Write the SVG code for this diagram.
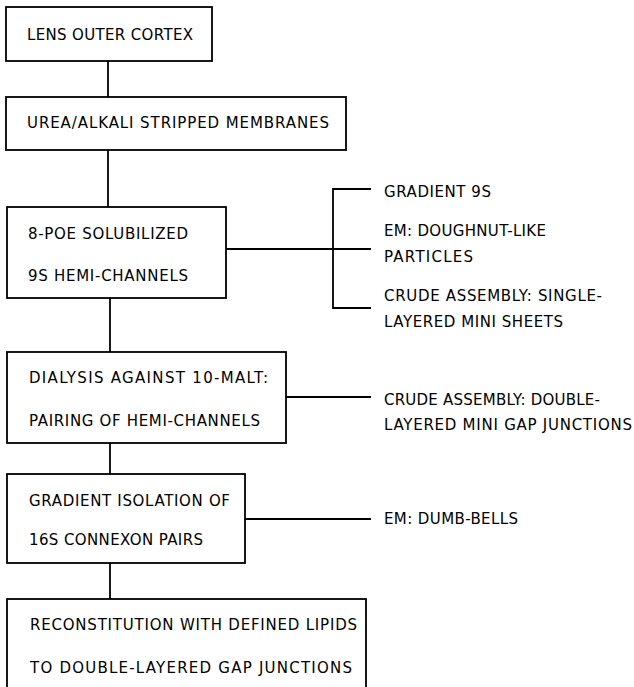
<svg xmlns="http://www.w3.org/2000/svg" width="634" height="687" viewBox="0 0 634 687">
<style>
.box{fill:#fff;stroke:#000;stroke-width:1.8}
.ln{fill:none;stroke:#000;stroke-width:1.8}
text{font-family:"DejaVu Sans","Liberation Sans",Arial,sans-serif;font-size:15px;fill:#000}
</style>
<rect width="634" height="687" fill="#fff"/>
<g id="connectors">
<line class="ln" x1="108" y1="61" x2="108" y2="97"/>
<line class="ln" x1="108" y1="150" x2="108" y2="207"/>
<line class="ln" x1="110" y1="298" x2="110" y2="352"/>
<line class="ln" x1="110" y1="443" x2="110" y2="474"/>
<line class="ln" x1="110" y1="563" x2="110" y2="599"/>
<line class="ln" x1="226" y1="249" x2="371" y2="249"/>
<polyline class="ln" points="371,189 333,189 333,308 371,308"/>
<line class="ln" x1="286" y1="397" x2="371" y2="397"/>
<line class="ln" x1="245" y1="519" x2="371" y2="519"/>
</g>
<g id="n1"><rect class="box" x="6" y="7" width="206" height="54"/><text x="27" y="40" textLength="166">LENS OUTER CORTEX</text></g>
<g id="n2"><rect class="box" x="6" y="97" width="340" height="53"/><text x="27" y="128" textLength="302">UREA/ALKALI  STRIPPED  MEMBRANES</text></g>
<g id="n3"><rect class="box" x="7" y="207" width="219" height="91"/><text x="28" y="239" textLength="160">8-POE  SOLUBILIZED</text><text x="28" y="281" textLength="160">9S  HEMI-CHANNELS</text></g>
<g id="n4"><rect class="box" x="7" y="352" width="279" height="91"/><text x="29" y="383" textLength="239">DIALYSIS  AGAINST  10-MALT:</text><text x="29" y="426" textLength="231">PAIRING  OF  HEMI-CHANNELS</text></g>
<g id="n5"><rect class="box" x="7" y="474" width="238" height="89"/><text x="29" y="506" textLength="201">GRADIENT  ISOLATION  OF</text><text x="29" y="545" textLength="174">16S CONNEXON PAIRS</text></g>
<g id="n6"><rect class="box" x="7" y="599" width="359" height="100"/><text x="30" y="630" textLength="327">RECONSTITUTION  WITH  DEFINED  LIPIDS</text><text x="30" y="673" textLength="322">TO DOUBLE-LAYERED GAP JUNCTIONS</text></g>
<g id="a1"><text x="384" y="197" textLength="107">GRADIENT  9S</text></g>
<g id="a2"><text x="384" y="236" textLength="162">EM: DOUGHNUT-LIKE</text><text x="384" y="262" textLength="89">PARTICLES</text></g>
<g id="a3"><text x="384" y="301" textLength="218">CRUDE  ASSEMBLY:  SINGLE-</text><text x="384" y="327" textLength="179">LAYERED  MINI  SHEETS</text></g>
<g id="a4"><text x="384" y="405" textLength="216">CRUDE  ASSEMBLY:  DOUBLE-</text><text x="384" y="430" textLength="248">LAYERED  MINI  GAP  JUNCTIONS</text></g>
<g id="a5"><text x="384" y="524" textLength="134">EM:  DUMB-BELLS</text></g>
</svg>
